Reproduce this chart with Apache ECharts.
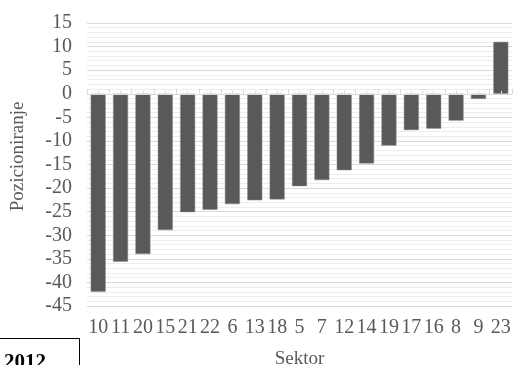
<!DOCTYPE html>
<html>
<head>
<meta charset="utf-8">
<script src="https://cdn.jsdelivr.net/npm/echarts@6/dist/echarts.min.js"></script>
<style>
html,body{margin:0;padding:0;background:#fff;}
#c{width:514px;height:365px;}
</style>
</head>
<body>
<div id="c"></div>
<script>
const categories = ['10','11','20','15','21','22','6','13','18','5','7','12','14','19','17','16','8','9','23'];
const values = [-42, -35.6, -34, -28.9, -25.1, -24.6, -23.4, -22.6, -22.4, -19.6, -18.3, -16.2, -14.8, -11, -7.7, -7.4, -5.7, -1.1, 11];
const yMin = -45, yMax = 15, yStep = 5;
const xTitle = 'Sektor';
const yTitle = 'Pozicioniranje';
const boxLabel = '2012';

const font = 'Liberation Serif';
const chart = echarts.init(document.getElementById('c'), null, {renderer:'canvas'});
chart.setOption({
  animation:false,
  backgroundColor:'#ffffff',
  grid:{left:87, right:2, top:23, bottom:59, containLabel:false, outerBoundsMode:'none'},
  xAxis:[
    {type:'category', data:categories, position:'bottom',
     axisLine:{show:false, onZero:false}, axisTick:{show:false},
     axisLabel:{interval:0, color:'#595959', fontFamily:font, fontSize:20, margin:12},
     name:xTitle, nameLocation:'middle', nameGap:44,
     nameTextStyle:{color:'#595959', fontFamily:font, fontSize:19}},
    {type:'category', data:categories, position:'bottom', z:5,
     axisLine:{show:true, onZero:true, onZeroAxisIndex:0, lineStyle:{color:'#d9d9d9', width:1}},
     axisTick:{show:true, inside:true, length:5, lineStyle:{color:'#d9d9d9'}},
     axisLabel:{show:false}},
    {type:'category', data:categories, position:'bottom', z:5,
     axisLine:{show:false, onZero:true, onZeroAxisIndex:0},
     axisTick:{show:true, inside:true, length:3, alignWithLabel:true, lineStyle:{color:'#d9d9d9'}},
     axisLabel:{show:false}}
  ],
  yAxis:{type:'value', min:yMin, max:yMax, interval:yStep,
    axisLine:{show:false}, axisTick:{show:false},
    axisLabel:{color:'#595959', fontFamily:font, fontSize:20, margin:15},
    splitLine:{show:true, lineStyle:{color:'#d9d9d9', width:1}},
    minorTick:{show:false, splitNumber:5},
    minorSplitLine:{show:true, lineStyle:{color:'#ededed', width:1}},
    name:yTitle, nameLocation:'middle', nameGap:59, nameRotate:90,
    nameTextStyle:{color:'#595959', fontFamily:font, fontSize:19, padding:[0,0,0,16]}},
  series:[{type:'bar', xAxisIndex:0, data:values, barCategoryGap:'33%',
    itemStyle:{color:'#595959', borderColor:'#8a8a8a', borderWidth:0.5}}],
  graphic:[
    {type:'rect', left:-2, top:338, shape:{width:81, height:40},
     style:{fill:'#fff', stroke:'#000', lineWidth:1}},
    {type:'text', left:4, top:352, style:{text:boxLabel, fill:'#000', font:'bold 21px "Liberation Serif"'}}
  ]
});
</script>
</body>
</html>
